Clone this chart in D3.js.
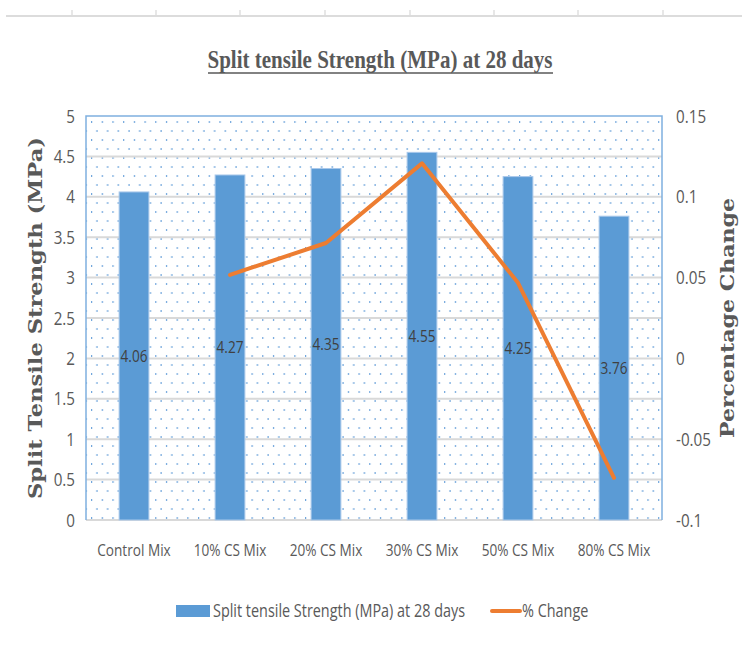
<!DOCTYPE html>
<html>
<head>
<meta charset="utf-8">
<script src="https://cdn.jsdelivr.net/npm/d3@7/dist/d3.min.js"></script>
<style>
  body { margin: 0; background: #fff; }
  svg { display: block; }
  .cond { font-family: "Liberation Sans Narrow", "Open Sans", "Liberation Sans", Arial, sans-serif; }
</style>
</head>
<body>
<svg id="chart" width="742" height="654"></svg>
<script>
// ---- data ----
const categories = ["Control Mix", "10% CS Mix", "20% CS Mix", "30% CS Mix", "50% CS Mix", "80% CS Mix"];
const strength = [4.06, 4.27, 4.35, 4.55, 4.25, 3.76];
const pctCategories = ["10% CS Mix", "20% CS Mix", "30% CS Mix", "50% CS Mix", "80% CS Mix"];
const pctChange = [0.0517, 0.0714, 0.1207, 0.0468, -0.0739];
const leftTicks = [0, 0.5, 1, 1.5, 2, 2.5, 3, 3.5, 4, 4.5, 5];
const rightTicks = [-0.1, -0.05, 0, 0.05, 0.1, 0.15];
const rulerTicks = [72, 156, 240, 325, 410, 494, 578, 663];

const svg = d3.select("#chart");
const gray = "#595959";
const L = 86, R = 662, T = 116, B = 520;
const fmt = d => String(+d.toFixed(2)); // plain hyphen minus like Excel

// ruler at top
svg.append("line").attr("x1", 6).attr("x2", 742).attr("y1", 16).attr("y2", 16)
  .attr("stroke", "#dcdcdc").attr("stroke-width", 2);
svg.selectAll(".rt").data(rulerTicks).join("line")
  .attr("x1", d => d).attr("x2", d => d).attr("y1", 10).attr("y2", 15)
  .attr("stroke", "#cfcfcf").attr("stroke-width", 1);

// scales
const x = d3.scaleBand().domain(categories).range([L, R]).paddingInner(0.69).paddingOuter(0.345);
const y = d3.scaleLinear().domain([0, 5]).range([B, T]);
const y2 = d3.scaleLinear().domain([-0.1, 0.15]).range([B, T]);

// dotted pattern
const defs = svg.append("defs");
const pat = defs.append("pattern").attr("id", "dots").attr("patternUnits", "userSpaceOnUse")
  .attr("width", 10.7).attr("height", 18).attr("x", L + 5).attr("y", T + 5);
pat.append("rect").attr("x", 0).attr("y", 0).attr("width", 1.2).attr("height", 2).attr("fill", "#6fa5dc");
pat.append("rect").attr("x", 5.35).attr("y", 9).attr("width", 1.2).attr("height", 2).attr("fill", "#6fa5dc");

svg.append("rect").attr("x", L).attr("y", T).attr("width", R - L).attr("height", B - T)
  .attr("fill", "url(#dots)");

// gridlines
svg.append("g").selectAll("line").data(leftTicks.slice(1, -1)).join("line")
  .attr("x1", L).attr("x2", R).attr("y1", d => y(d)).attr("y2", d => y(d))
  .attr("stroke", "#d9d9d9").attr("stroke-width", 2);

// plot border
svg.append("line").attr("x1", L).attr("x2", R).attr("y1", B).attr("y2", B)
  .attr("stroke", "#d9d9d9").attr("stroke-width", 2);
svg.append("path").attr("d", `M${L},${B}V${T}H${R}V${B}`)
  .attr("fill", "none").attr("stroke", "#7fb0e0").attr("stroke-width", 1.5);

// bars
svg.append("g").selectAll("rect").data(strength).join("rect")
  .attr("x", (d, i) => x(categories[i]))
  .attr("y", d => y(d))
  .attr("width", x.bandwidth())
  .attr("height", d => B - y(d))
  .attr("fill", "#5b9bd5")
  .attr("stroke", "#a9c8ea").attr("stroke-width", 1);

// data labels
svg.append("g").selectAll("text").data(strength).join("text")
  .attr("class", "cond")
  .attr("x", (d, i) => x(categories[i]) + x.bandwidth() / 2)
  .attr("y", d => (y(d) + B) / 2)
  .attr("dy", "0.35em")
  .attr("text-anchor", "middle")
  .attr("font-size", 17)
  .attr("fill", "#404040")
  .text(d => d.toFixed(2));

// line
const line = d3.line()
  .x((d, i) => x(pctCategories[i]) + x.bandwidth() / 2)
  .y(d => y2(d));
svg.append("path").datum(pctChange).attr("d", line)
  .attr("fill", "none").attr("stroke", "#ed7d31").attr("stroke-width", 4)
  .attr("stroke-linejoin", "round").attr("stroke-linecap", "round");

// left axis
const leftAxis = svg.append("g").attr("transform", `translate(${L},0)`)
  .call(d3.axisLeft(y).tickValues(leftTicks).tickSize(0).tickPadding(11).tickFormat(fmt));
leftAxis.select(".domain").remove();
leftAxis.selectAll("text").attr("class", "cond").attr("font-size", 19).attr("fill", gray);

// right axis
const rightAxis = svg.append("g").attr("transform", `translate(${R},0)`)
  .call(d3.axisRight(y2).tickValues(rightTicks).tickSize(0).tickPadding(14).tickFormat(fmt));
rightAxis.select(".domain").remove();
rightAxis.selectAll("text").attr("class", "cond").attr("font-size", 19).attr("fill", gray);

// x axis
const xAxis = svg.append("g").attr("transform", `translate(0,${B})`)
  .call(d3.axisBottom(x).tickSize(0).tickPadding(24));
xAxis.select(".domain").remove();
xAxis.selectAll("text").attr("class", "cond").attr("font-size", 17).attr("fill", gray);

// title
svg.append("text").attr("x", 380).attr("y", 68).attr("text-anchor", "middle")
  .attr("font-family", "Liberation Serif, DejaVu Serif, serif").attr("font-weight", "bold")
  .attr("font-size", 25).attr("fill", gray)
  .attr("textLength", 345).attr("lengthAdjust", "spacingAndGlyphs")
  .text("Split tensile Strength (MPa) at 28 days");
svg.append("line").attr("x1", 208).attr("x2", 553).attr("y1", 73).attr("y2", 73)
  .attr("stroke", gray).attr("stroke-width", 1.5);

// axis titles
svg.append("text").attr("transform", "translate(42,318) rotate(-90)").attr("text-anchor", "middle")
  .attr("font-family", "DejaVu Serif, Liberation Serif, serif").attr("font-weight", "bold")
  .attr("font-size", 18).attr("fill", gray)
  .attr("textLength", 362).attr("lengthAdjust", "spacingAndGlyphs")
  .text("Split Tensile Strength (MPa)");
svg.append("text").attr("transform", "translate(734,318) rotate(-90)").attr("text-anchor", "middle")
  .attr("font-family", "DejaVu Serif, Liberation Serif, serif").attr("font-weight", "bold")
  .attr("font-size", 18).attr("fill", gray)
  .attr("textLength", 240).attr("lengthAdjust", "spacingAndGlyphs")
  .text("Percentage Change");

// legend
const lg = svg.append("g");
lg.append("rect").attr("x", 176).attr("y", 605).attr("width", 34).attr("height", 12).attr("fill", "#5b9bd5");
lg.append("text").attr("class", "cond legend").attr("x", 213).attr("y", 611).attr("dy", "0.35em")
  .attr("font-size", 18).attr("fill", gray).text("Split tensile Strength (MPa) at 28 days");
lg.append("line").attr("x1", 492).attr("x2", 520).attr("y1", 611).attr("y2", 611)
  .attr("stroke", "#ed7d31").attr("stroke-width", 4).attr("stroke-linecap", "round");
lg.append("text").attr("class", "cond legend").attr("x", 522).attr("y", 611).attr("dy", "0.35em")
  .attr("font-size", 18).attr("fill", gray).text("% Change");

// condense sans-serif text to mimic the narrow original font
svg.selectAll("text.cond").each(function () {
  const w = this.getComputedTextLength();
  d3.select(this).attr("textLength", w * 0.8).attr("lengthAdjust", "spacingAndGlyphs");
});
</script>
</body>
</html>
